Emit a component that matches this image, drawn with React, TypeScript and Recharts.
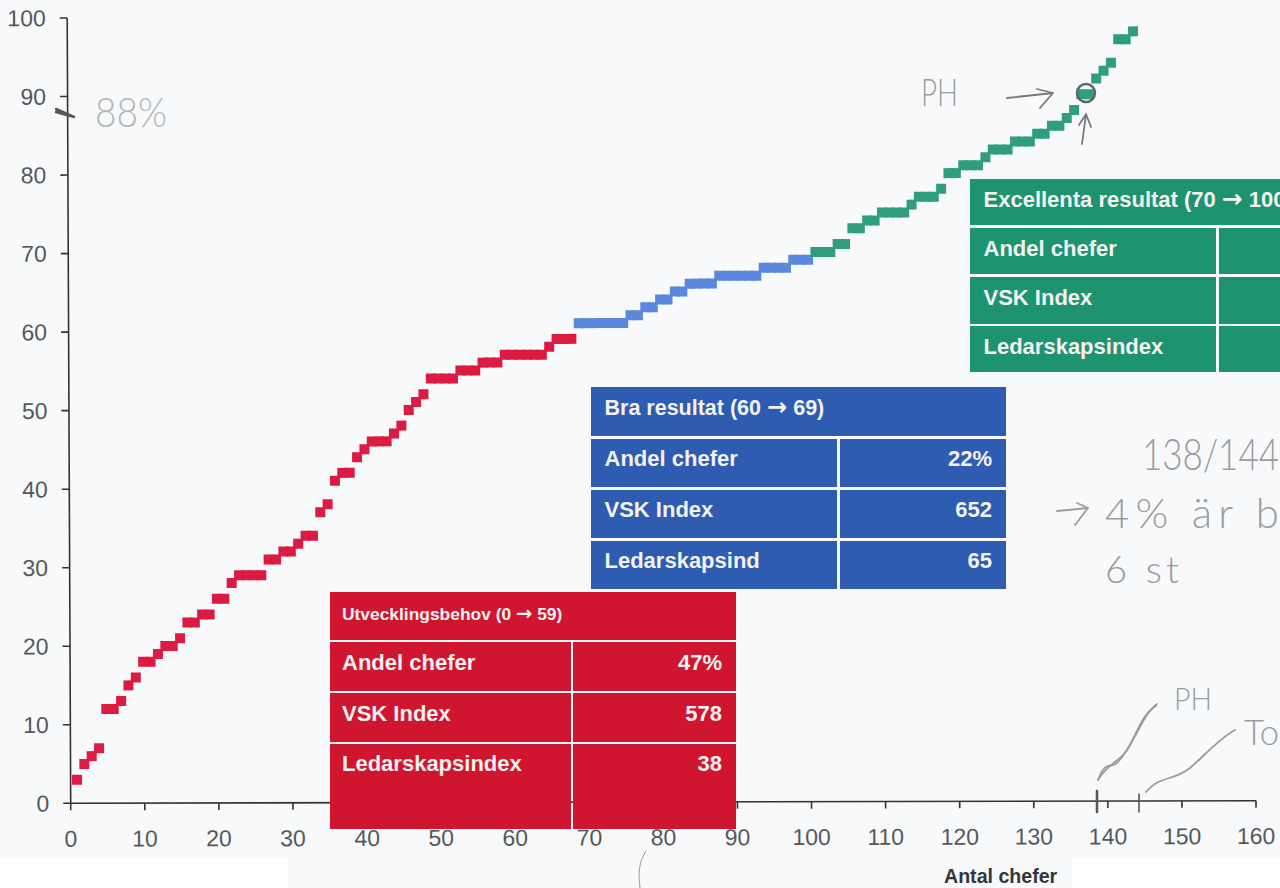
import React from 'react';
import { ScatterChart, Scatter, XAxis, YAxis } from 'recharts';

const xTicks = [0, 10, 20, 30, 40, 50, 60, 70, 80, 90, 100, 110, 120, 130, 140, 150, 160];
const yTicks = [0, 10, 20, 30, 40, 50, 60, 70, 80, 90, 100];

const redValues = [3, 5, 6, 7, 12, 12, 13, 15, 16, 18, 18, 19, 20, 20, 21, 23, 23, 24, 24, 26, 26, 28, 29, 29, 29, 29, 31, 31, 32, 32, 33, 34, 34, 37, 38, 41, 42, 42, 44, 45, 46, 46, 46, 47, 48, 50, 51, 52, 54, 54, 54, 54, 55, 55, 55, 56, 56, 56, 57, 57, 57, 57, 57, 57, 58, 59, 59, 59];
const blueValues = [61, 61, 61, 61, 61, 61, 61, 62, 62, 63, 63, 64, 64, 65, 65, 66, 66, 66, 66, 67, 67, 67, 67, 67, 67, 68, 68, 68, 68, 69, 69, 69];
const greenValues = [70, 70, 70, 71, 71, 73, 73, 74, 74, 75, 75, 75, 75, 76, 77, 77, 77, 78, 80, 80, 81, 81, 81, 82, 83, 83, 83, 84, 84, 84, 85, 85, 86, 86, 87, 88, 90, 90, 92, 93, 94, 97, 97, 98];

const redTitle = 'Utvecklingsbehov (0 → 59)';
const redLabels = ['Andel chefer', 'VSK Index', 'Ledarskapsindex'];
const redNumbers = ['47%', '578', '38'];
const blueTitle = 'Bra resultat (60 → 69)';
const blueLabels = ['Andel chefer', 'VSK Index', 'Ledarskapsind'];
const blueNumbers = ['22%', '652', '65'];
const greenTitle = 'Excellenta resultat (70 → 100)';
const greenLabels = ['Andel chefer', 'VSK Index', 'Ledarskapsindex'];
const greenNumbers = ['', '', ''];

const toPoints = (values: number[], start: number) =>
  values.map((v, k) => ({ chef: start + k, score: v }));
const redPoints = toPoints(redValues, 1);
const bluePoints = toPoints(blueValues, 1 + redValues.length);
const greenPoints = toPoints(greenValues, 1 + redValues.length + blueValues.length);

const FONT = '"Liberation Sans", Arial, sans-serif';
const HAND = 'Lato, "Open Sans", sans-serif';

const square = (fill: string) => (p: any) => (
  <rect x={p.cx - 6} y={p.cy - 5} width={10} height={10} fill={fill} />
);

type Box = { left: number; top: number; width: number; height: number; color: string };
const Cell = ({ left, top, width, height, color }: Box) => (
  <div style={{ position: 'absolute', left, top, width, height, background: color }} />
);

const withArrow = (s: string) => {
  const [a, b] = s.split('→');
  if (b === undefined) return s;
  return (
    <>
      {a}
      <span style={{ fontFamily: '"DejaVu Sans", sans-serif', fontSize: '1.12em', lineHeight: 0 }}>→</span>
      {b}
    </>
  );
};

const Txt = ({ x, y, right, size, children }: any) => (
  <div
    style={{
      position: 'absolute',
      top: y - 20,
      height: 40,
      lineHeight: '40px',
      ...(right !== undefined ? { right: 1280 - right } : { left: x }),
      fontFamily: FONT,
      fontWeight: 700,
      fontSize: size,
      color: '#f4f1f1',
      whiteSpace: 'nowrap',
    }}
  >
    {children}
  </div>
);

type TableProps = {
  color: string;
  left: number;
  right: number;
  split: number;
  tops: number[];
  bottoms: number[];
  textX: number;
  numX: number;
  textYs: number[];
  title: string;
  titleSize: number;
  labels: string[];
  numbers: string[];
};

const ResultTable = (t: TableProps) => (
  <>
    <Cell left={t.left} top={t.tops[0]} width={t.right - t.left} height={t.bottoms[0] - t.tops[0]} color={t.color} />
    {t.labels.map((_, k) => (
      <React.Fragment key={k}>
        <Cell left={t.left} top={t.tops[k + 1]} width={t.split - t.left - 1} height={t.bottoms[k + 1] - t.tops[k + 1]} color={t.color} />
        <Cell left={t.split + 1.5} top={t.tops[k + 1]} width={t.right - t.split - 1.5} height={t.bottoms[k + 1] - t.tops[k + 1]} color={t.color} />
      </React.Fragment>
    ))}
    <Txt x={t.textX} y={t.textYs[0]} size={t.titleSize}>{withArrow(t.title)}</Txt>
    {t.labels.map((l, k) => (
      <Txt key={l} x={t.textX} y={t.textYs[k + 1]} size={22}>{l}</Txt>
    ))}
    {t.numbers.map((n, k) => (
      <Txt key={k} right={t.numX} y={t.textYs[k + 1]} size={22}>{n}</Txt>
    ))}
  </>
);

const Handwriting = () => (
  <svg width={1280} height={888} style={{ position: 'absolute', left: 0, top: 0 }}>
    <g fill="none" stroke="#77797b" strokeWidth={1.8} strokeLinecap="round" strokeLinejoin="round">
      <path d="M1007 98 L1053 93 M1037 89 L1053 93 L1040 108" />
      <path d="M1082 144 L1086 114 M1079 125 L1086 114 L1091 127" />
      <circle cx={1086} cy={93} r={9} stroke="#5d6664" strokeWidth={2.5} />
    </g>
    <g fill="none" stroke="#9a9c9e" strokeWidth={1.8} strokeLinecap="round" strokeLinejoin="round">
      <path d="M1057 511 L1088 508 M1077 503 L1088 508 L1075 525" />
      <path d="M1098 780 C1106 758 1112 770 1118 762 C1134 745 1142 715 1157 704" />
      <path d="M1098 780 C1108 762 1122 762 1130 745 C1140 725 1145 712 1156 706" />
      <path d="M1146 792 C1160 775 1172 782 1190 768 C1205 755 1220 738 1235 730" />
      <path d="M640 888 C638 872 639 862 646 851" strokeWidth={1} />
    </g>
    <g fill="none" stroke="#555759" strokeLinecap="round">
      <path d="M56 109 L74 117 M56 112 L70 116" strokeWidth={2.5} />
      <path d="M1097 791 L1097 812" strokeWidth={2.5} />
      <path d="M1139 794 L1139 812" strokeWidth={1.6} />
    </g>
    <g fontFamily={HAND} fontWeight={300} fill="#9a9c9e">
      <text x={95} y={127} fontSize={42} fill="#b3b6b8" textLength={72} lengthAdjust="spacingAndGlyphs">88%</text>
      <text x={921} y={106} fontSize={38} textLength={37} lengthAdjust="spacingAndGlyphs">PH</text>
      <text x={1142} y={470} fontSize={44} textLength={137} lengthAdjust="spacingAndGlyphs">138/144</text>
      <text x={1105} y={528} fontSize={42} textLength={174} lengthAdjust="spacing">4% är b</text>
      <text x={1105} y={583} fontSize={38} textLength={74} lengthAdjust="spacing">6 st</text>
      <text x={1174} y={710} fontSize={32} textLength={38} lengthAdjust="spacingAndGlyphs">PH</text>
      <text x={1244} y={745} fontSize={36} textLength={35} lengthAdjust="spacingAndGlyphs">To</text>
    </g>
  </svg>
);

export default function App() {
  return (
    <div style={{ position: 'absolute', left: 0, top: 0, width: 1280, height: 888, overflow: 'hidden', background: '#f7f9fa' }}>
      <div style={{ position: 'absolute', left: 0, top: 0, transformOrigin: '70.7px 803.3px', transform: 'matrix(1,-0.00219,0.00446,1,0,0)' }}>
        <ScatterChart width={1280} height={888} margin={{ top: 18, right: 24, bottom: 0, left: 0 }}>
          <XAxis
            type="number"
            dataKey="chef"
            domain={[0, 160]}
            ticks={xTicks}
            interval={0}
            height={84.7}
            tickSize={7}
            tickMargin={20}
            stroke="#333"
            strokeWidth={1.6}
            tick={{ fontFamily: FONT, fontSize: 23, fill: '#55585a', stroke: 'none' }}
          />
          <YAxis
            type="number"
            dataKey="score"
            domain={[0, 100]}
            ticks={yTicks}
            interval={0}
            width={70.7}
            tickSize={7.5}
            tickMargin={14}
            stroke="#333"
            strokeWidth={1.6}
            tick={{ fontFamily: FONT, fontSize: 23, fill: '#55585a', stroke: 'none' }}
          />
          <Scatter data={redPoints} isAnimationActive={false} shape={square('#dc1b43')} />
          <Scatter data={bluePoints} isAnimationActive={false} shape={square('#5b87de')} />
          <Scatter data={greenPoints} isAnimationActive={false} shape={square('#2f9e7c')} />
        </ScatterChart>
      </div>

      <Cell left={0} top={858} width={288} height={30} color="#ffffff" />
      <Cell left={1072} top={858} width={208} height={30} color="#ffffff" />
      <div
        style={{ position: 'absolute', left: 944, top: 866, lineHeight: '20px', fontFamily: FONT, fontWeight: 700, fontSize: 19.6, color: '#33363a', whiteSpace: 'nowrap' }}
      >
        Antal chefer
      </div>

      <ResultTable
        color="#d0152e"
        left={329.5}
        right={736}
        split={571.7}
        tops={[592, 642.3, 693.3, 744]}
        bottoms={[640, 691, 741.7, 829]}
        textX={342}
        numX={722}
        textYs={[614, 663, 714, 764]}
        title={redTitle}
        titleSize={17.4}
        labels={redLabels}
        numbers={redNumbers}
      />
      <ResultTable
        color="#2e5cb1"
        left={591}
        right={1005.7}
        split={838.3}
        tops={[387.3, 439, 490, 541]}
        bottoms={[436.5, 487.3, 538, 589.3]}
        textX={604.5}
        numX={992}
        textYs={[408, 459, 510, 561]}
        title={blueTitle}
        titleSize={21.5}
        labels={blueLabels}
        numbers={blueNumbers}
      />
      <ResultTable
        color="#1d9370"
        left={970}
        right={1300}
        split={1217}
        tops={[179.3, 228, 276.7, 326]}
        bottoms={[225.5, 274.3, 323.7, 372]}
        textX={983.5}
        numX={1300}
        textYs={[200, 249, 298, 347]}
        title={greenTitle}
        titleSize={22}
        labels={greenLabels}
        numbers={greenNumbers}
      />
      <Handwriting />
    </div>
  );
}
